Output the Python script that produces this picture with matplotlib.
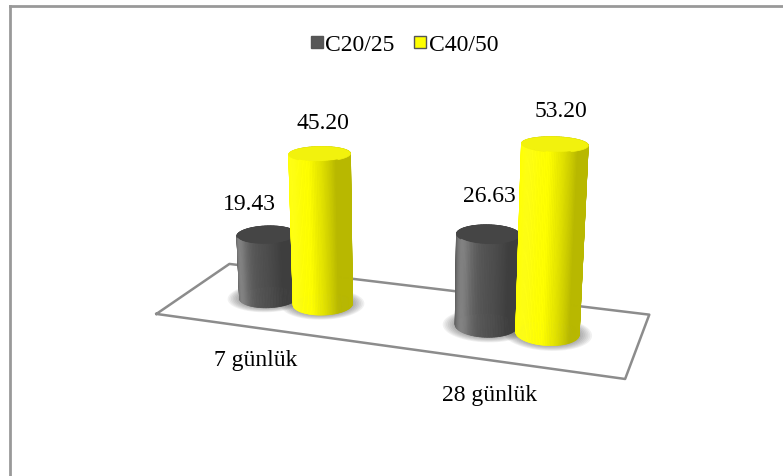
import numpy as np
import matplotlib.pyplot as plt
from matplotlib.lines import Line2D
from mpl_toolkits.mplot3d.art3d import Poly3DCollection

plt.rcParams['font.family'] = ['Liberation Serif', 'DejaVu Serif']

categories = ['7 günlük', '28 günlük']
series = ['C20/25', 'C40/50']
c2025 = [19.43, 26.63]
c4050 = [45.20, 53.20]

base_cols = [(0.34, 0.34, 0.34), (1.0, 1.0, 0.0)]
cap_cols = [(0.27, 0.27, 0.27), (0.95, 0.95, 0.05)]

fig = plt.figure(figsize=(7.83, 4.77), dpi=100)
ax = fig.add_axes([0.006, 0.036, 1, 1], projection='3d', computed_zorder=False)
ax.set_proj_type('persp', focal_length=0.45)
ax.view_init(elev=17, azim=-71)

depth = 0.68
yc = depth / 2
r = 0.13
off = 0.13
light = np.array([-0.6, -0.8, 0.0])
light /= np.linalg.norm(light)


def shade(col, th):
    n = np.array([np.cos(th), np.sin(th), 0.0])
    d = max(0.0, n @ light)
    f = 0.72 + 0.35 * d + 0.2 * d ** 12
    return tuple(min(1.0, c * f + 0.08 * d ** 12) for c in col)


def cylinder(xc, h, col, cap, zo, n=120):
    th = np.linspace(0, 2 * np.pi, n + 1)
    polys, fcs = [], []
    for a0, a1 in zip(th[:-1], th[1:]):
        p0 = (xc + r * np.cos(a0), yc + r * np.sin(a0))
        p1 = (xc + r * np.cos(a1), yc + r * np.sin(a1))
        polys.append([(p0[0], p0[1], 0), (p1[0], p1[1], 0),
                      (p1[0], p1[1], h), (p0[0], p0[1], h)])
        fcs.append(shade(col, (a0 + a1) / 2))
    polys.append([(xc + r * np.cos(a), yc + r * np.sin(a), h) for a in th])
    fcs.append(cap)
    pc = Poly3DCollection(polys, facecolors=fcs, edgecolors=fcs, linewidths=0.5)
    pc.set_zorder(zo)
    pc.set_clip_on(False)
    ax.add_collection3d(pc)


def shadow(xc, zo):
    th = np.linspace(0, 2 * np.pi, 60)
    for k in np.linspace(1.0, 1.4, 8):
        ring = [(xc + r * k * np.cos(a), yc + r * k * np.sin(a), 0) for a in th]
        pc = Poly3DCollection([ring], facecolors=(0.3, 0.3, 0.3, 0.08), edgecolors='none')
        pc.set_zorder(zo)
        pc.set_clip_on(False)
        ax.add_collection3d(pc)


# floor outline
fx = [0, 2, 2, 0, 0]
fy = [0, 0, depth, depth, 0]
floor, = ax.plot(fx, fy, [0] * 5, color='#8c8c8c', lw=1.8, zorder=1)
floor.set_clip_on(False)

lab_dx = [-0.08, 0.0]
lab_dz = [9, 11]
for i, cat in enumerate(categories):
    xc = i + 0.5
    shadow(xc - off, 2)
    shadow(xc + off, 2)
    cylinder(xc - off, c2025[i], base_cols[0], cap_cols[0], 3 + 2 * i)
    cylinder(xc + off, c4050[i], base_cols[1], cap_cols[1], 4 + 2 * i)
    ax.text(xc - off + lab_dx[i], yc, c2025[i] + lab_dz[i], f'{c2025[i]:.2f}', fontsize=17,
            ha='center', va='center', zorder=20, clip_on=False)
    ax.text(xc + off + 0.02, yc, c4050[i] + 9, f'{c4050[i]:.2f}', fontsize=17,
            ha='center', va='center', zorder=20, clip_on=False)
    ax.text(xc - 0.01, -0.05, -8, cat, fontsize=17, ha='center', va='center',
            zorder=20, clip_on=False)

ax.set_xlim(0, 2)
ax.set_ylim(0, depth)
ax.set_zlim(0, 60)
ax.set_box_aspect((2, depth, 0.9), zoom=1.12)
ax.set_axis_off()

handles = [Line2D([], [], marker='s', ls='none', markersize=9, markerfacecolor=c,
                  markeredgecolor='#555555') for c in base_cols]
fig.legend(handles, series, loc='center', bbox_to_anchor=(0.516, 1 - 45 / 477),
           ncol=2, frameon=False, fontsize=17, handlelength=0.6, handletextpad=0.05,
           columnspacing=0.8)

# chart frame
fig.add_artist(Line2D([10 / 783, 10 / 783], [0, 1 - 7 / 477], color='#999999', lw=2))
fig.add_artist(Line2D([10 / 783, 1], [1 - 7 / 477, 1 - 7 / 477], color='#999999', lw=2))

fig.savefig('out.png', dpi=100, facecolor='white')
